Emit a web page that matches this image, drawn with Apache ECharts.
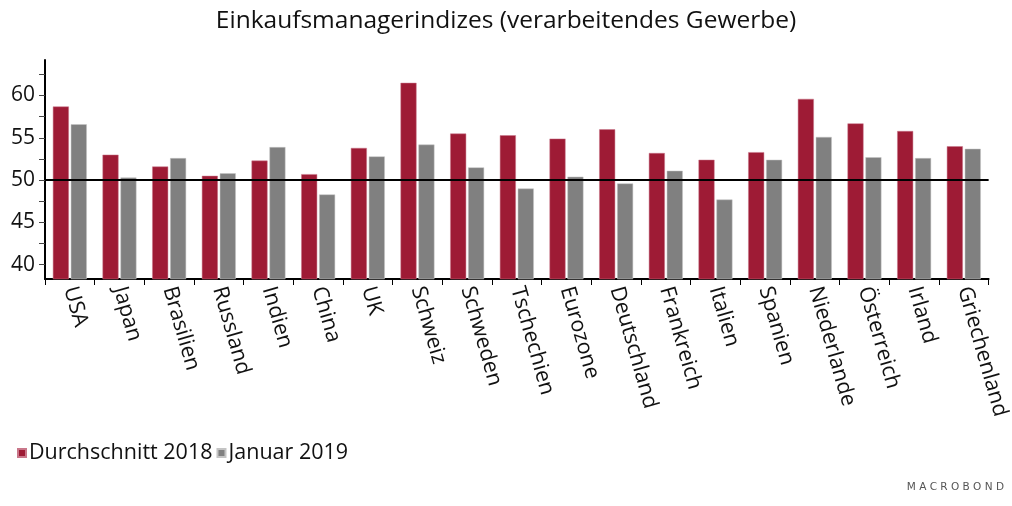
<!DOCTYPE html>
<html>
<head>
<meta charset="utf-8">
<script src="https://cdn.jsdelivr.net/npm/echarts@6/dist/echarts.min.js"></script>
<style>
    html, body { margin: 0; padding: 0; background: #fff; }
    #chart { width: 1012px; height: 506px; }
</style>
</head>
<body>
<div id="chart"></div>
<script>
// Länder und Werte
const countries = ['USA', 'Japan', 'Brasilien', 'Russland', 'Indien', 'China', 'UK', 'Schweiz', 'Schweden',
    'Tschechien', 'Eurozone', 'Deutschland', 'Frankreich', 'Italien', 'Spanien', 'Niederlande', 'Österreich',
    'Irland', 'Griechenland']
const avg2018 = [58.7, 53.0, 51.6, 50.5, 52.3, 50.7, 53.8, 61.5, 55.5, 55.3, 54.9, 56.0, 53.2, 52.4, 53.3, 59.6, 56.7, 55.8, 54.0]
const jan2019 = [56.6, 50.3, 52.6, 50.8, 53.9, 48.3, 52.8, 54.2, 51.5, 49.0, 50.4, 49.6, 51.1, 47.7, 52.4, 55.1, 52.7, 52.6, 53.7]
const yLabels = [40, 45, 50, 55, 60]
const yTicks = [40, 42.5, 45, 47.5, 50, 52.5, 55, 57.5, 60, 62.5]

const fontName = 'Open Sans'
const red = '#9e1b35'
const grey = '#808080'

const chart = echarts.init(document.getElementById('chart'))

const option = {
    animation: false,
    title: {
        text: 'Einkaufsmanagerindizes (verarbeitendes Gewerbe)',
        left: 'center',
        top: 4,
        textStyle: { fontFamily: fontName, fontSize: 24.5, fontWeight: 'normal', color: '#111' }
    },
    legend: {
        left: 12,
        top: 437,
        itemWidth: 8,
        itemHeight: 8,
        itemGap: 4,
        icon: 'rect',
        textStyle: { fontFamily: fontName, fontSize: 21.5, color: '#111', padding: [0, 0, 0, -2] },
        data: ['Durchschnitt 2018', 'Januar 2019']
    },
    grid: { left: 45, right: 14, top: 60, bottom: 227 },
    xAxis: {
        type: 'category',
        data: countries,
        axisLine: { lineStyle: { color: '#000', width: 2 } },
        axisTick: { show: true, length: 6, lineStyle: { color: '#000' } },
        axisLabel: {
            interval: 0,
            rotate: -74,
            margin: 8,
            fontFamily: fontName,
            fontSize: 21.5,
            color: '#111'
        }
    },
    yAxis: {
        type: 'value',
        min: 38.3,
        max: 64.2,
        splitLine: { show: false },
        axisLine: { show: true, lineStyle: { color: '#000', width: 2 } },
        axisTick: { show: true, length: 6, customValues: yTicks, lineStyle: { color: '#444' } },
        axisLabel: {
            customValues: yLabels,
            margin: 10,
            fontFamily: fontName,
            fontSize: 21,
            color: '#111'
        }
    },
    series: [
        {
            name: 'Durchschnitt 2018',
            type: 'bar',
            data: avg2018,
            barWidth: 16,
            barGap: '12%',
            itemStyle: { color: red, borderColor: '#c9778a', borderWidth: 0.5 },
            markLine: {
                silent: true,
                symbol: 'none',
                label: { show: false },
                lineStyle: { color: '#000', width: 2, type: 'solid' },
                data: [{ yAxis: 50 }]
            }
        },
        {
            name: 'Januar 2019',
            type: 'bar',
            data: jan2019,
            barWidth: 16,
            itemStyle: { color: grey, borderColor: '#c4c4c4', borderWidth: 0.5 }
        }
    ],
    graphic: [
        {
            type: 'text',
            right: 8,
            top: 482,
            style: {
                text: 'M A C R O B O N D',
                fontFamily: 'DejaVu Sans',
                fontSize: 10.5,
                fill: '#555'
            }
        }
    ]
}

chart.setOption(option)
</script>
</body>
</html>
